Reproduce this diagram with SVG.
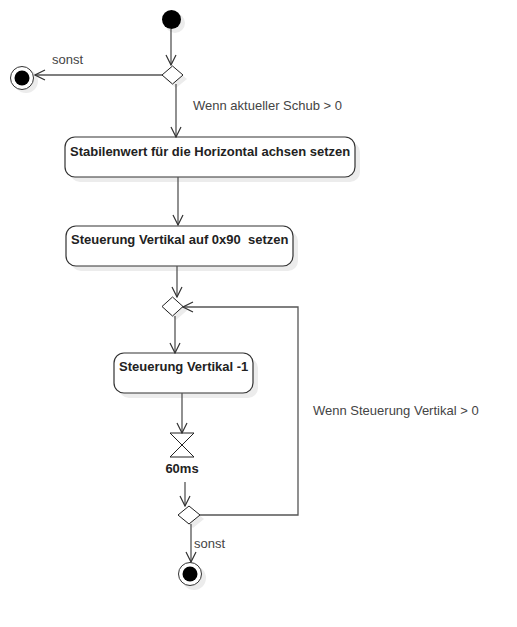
<svg xmlns="http://www.w3.org/2000/svg" width="517" height="627" viewBox="0 0 517 627">
<defs>
<style>
.edge{fill:none;stroke:#555;stroke-width:1.3}
.box{fill:#fff;stroke:#333;stroke-width:1.2}
.sh{fill:#ececec;stroke:none}
.dia{fill:#fff;stroke:#222;stroke-width:1}
.lbl{font-family:"Liberation Sans",Arial,sans-serif;font-size:13px;fill:#444}
.btxt{font-family:"Liberation Sans",Arial,sans-serif;font-size:13px;font-weight:bold;fill:#222;white-space:pre}
</style>
<marker id="arr" viewBox="0 0 12 12" refX="11" refY="6" markerWidth="12" markerHeight="12" markerUnits="userSpaceOnUse" orient="auto">
<path d="M1,1 L11,6 L1,11" fill="none" stroke="#333" stroke-width="1.2"/>
</marker>
</defs>
<rect width="517" height="627" fill="#fff"/>

<g id="start">
<circle class="sh" cx="175" cy="23" r="10"/>
<circle cx="171.5" cy="19.5" r="9.5" fill="#000"/>
</g>

<g id="decision1">
<polygon class="sh" points="176,70 187,79 176,88 165,79"/>
<polygon class="dia" points="172.5,66 183,75 172.5,84 162,75"/>
</g>

<g id="end1">
<circle class="sh" cx="26" cy="81" r="12"/>
<circle cx="22" cy="78" r="11.5" fill="#fff" stroke="#333" stroke-width="1"/>
<circle cx="22" cy="78" r="7.5" fill="#000"/>
</g>

<g id="action1">
<rect class="sh" x="70" y="142" width="290" height="40" rx="10"/>
<rect class="box" x="65" y="137" width="290" height="40" rx="10"/>
<text class="btxt" x="70" y="156">Stabilenwert für die Horizontal achsen setzen</text>
</g>

<g id="action2">
<rect class="sh" x="71" y="231" width="227" height="40" rx="10"/>
<rect class="box" x="66" y="226" width="227" height="40" rx="10"/>
<text class="btxt" x="71" y="244" xml:space="preserve">Steuerung Vertikal auf 0x90  setzen</text>
</g>

<g id="decision2">
<polygon class="sh" points="176,301 187,310.5 176,320 165,310.5"/>
<polygon class="dia" points="172.5,297 183,306.5 172.5,316 162,306.5"/>
</g>

<g id="action3">
<rect class="sh" x="119" y="358" width="139" height="40" rx="10"/>
<rect class="box" x="114" y="353" width="139" height="40" rx="10"/>
<text class="btxt" x="119" y="371">Steuerung Vertikal -1</text>
</g>

<g id="wait">
<path d="M170,433 L194,433 L170,457 L194,457 Z" fill="#fff" stroke="#222" stroke-width="1"/>
<text class="btxt" x="182" y="473" text-anchor="middle">60ms</text>
</g>

<g id="decision3">
<polygon class="sh" points="193,510 204,519 193,528 182,519"/>
<polygon class="dia" points="189,506 200,515 189,524 178,515"/>
</g>

<g id="end2">
<circle class="sh" cx="194" cy="578" r="12"/>
<circle cx="190" cy="574" r="11.5" fill="#fff" stroke="#333" stroke-width="1"/>
<circle cx="190" cy="574" r="7.5" fill="#000"/>
</g>

<g id="connectors">
<path class="edge" d="M171,29 L171,65" marker-end="url(#arr)"/>
<path class="edge" d="M162,75 L35,75" marker-end="url(#arr)"/>
<path class="edge" d="M176,84 L176,137" marker-end="url(#arr)"/>
<path class="edge" d="M178,177 L178,225" marker-end="url(#arr)"/>
<path class="edge" d="M177,266 L177,297" marker-end="url(#arr)"/>
<path class="edge" d="M175,316 L175,353" marker-end="url(#arr)"/>
<path class="edge" d="M182,393 L182,433" marker-end="url(#arr)"/>
<path class="edge" d="M185,482 L185,506" marker-end="url(#arr)"/>
<path class="edge" d="M200,515 L298,515 L298,307 L183,307" marker-end="url(#arr)"/>
<path class="edge" d="M191,524 L191,562" marker-end="url(#arr)"/>
<text class="lbl" x="52" y="64">sonst</text>
<text class="lbl" x="193" y="110">Wenn aktueller Schub &gt; 0</text>
<text class="lbl" x="313" y="415">Wenn Steuerung Vertikal &gt; 0</text>
<text class="lbl" x="194" y="548">sonst</text>
</g>
</svg>
